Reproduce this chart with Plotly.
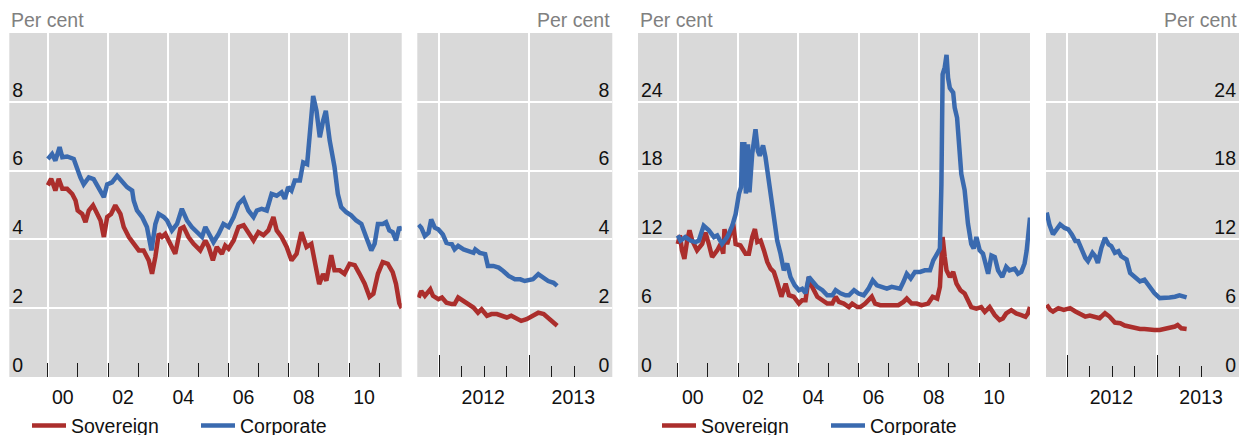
import plotly.graph_objects as go

# ---------------------------------------------------------------- data
# Left chart: yields, per cent (decimal years on the x axis)
sov_long_x = [2000.00, 2000.11, 2000.25, 2000.36, 2000.48, 2000.64, 2000.81, 2000.92, 2000.99,
              2001.14, 2001.25, 2001.36, 2001.50, 2001.64, 2001.75, 2001.86, 2001.97, 2002.10,
              2002.24, 2002.41, 2002.52, 2002.69, 2002.85, 2003.02, 2003.18, 2003.35, 2003.46,
              2003.57, 2003.68, 2003.79, 2003.90, 2004.07, 2004.23, 2004.40, 2004.51, 2004.67,
              2004.84, 2005.06, 2005.23, 2005.34, 2005.48, 2005.61, 2005.78, 2005.89, 2006.00,
              2006.17, 2006.33, 2006.50, 2006.66, 2006.83, 2006.99, 2007.16, 2007.32, 2007.49,
              2007.60, 2007.76, 2007.93, 2008.09, 2008.26, 2008.42, 2008.59, 2008.75, 2008.92,
              2009.01, 2009.14, 2009.25, 2009.41, 2009.52, 2009.69, 2009.85, 2010.02, 2010.19,
              2010.35, 2010.52, 2010.68, 2010.81, 2010.96, 2011.12, 2011.29, 2011.45, 2011.56,
              2011.67, 2011.75]
sov_long = [5.57, 5.76, 5.42, 5.76, 5.47, 5.47, 5.32, 5.13, 4.84,
            4.74, 4.50, 4.84, 4.99, 4.74, 4.55, 4.07, 4.65, 4.74,
            4.99, 4.74, 4.36, 4.07, 3.87, 3.68, 3.68, 3.39, 3.00,
            3.49, 4.16, 4.07, 4.16, 3.87, 3.58, 4.31, 4.36, 4.07,
            3.87, 3.68, 3.97, 3.78, 3.39, 3.78, 3.58, 3.82, 3.73,
            3.97, 4.36, 4.41, 4.21, 3.97, 4.21, 4.12, 4.26, 4.65,
            4.26, 4.07, 3.78, 3.39, 3.58, 4.21, 3.78, 3.87, 3.10,
            2.70, 2.99, 2.80, 3.54, 3.10, 3.10, 3.00, 3.29, 3.25,
            3.00, 2.71, 2.33, 2.42, 3.00, 3.34, 3.29, 3.05, 2.71,
            2.14, 2.00]

corp_long_x = [2000.00, 2000.14, 2000.25, 2000.39, 2000.48, 2000.64, 2000.86, 2000.97, 2001.08,
               2001.19, 2001.36, 2001.52, 2001.69, 2001.86, 2001.97, 2002.13, 2002.30, 2002.46,
               2002.63, 2002.80, 2002.85, 2002.96, 2003.13, 2003.29, 2003.44, 2003.57, 2003.68,
               2003.85, 2003.96, 2004.12, 2004.29, 2004.45, 2004.62, 2004.78, 2004.95, 2005.12,
               2005.23, 2005.39, 2005.50, 2005.67, 2005.83, 2006.00, 2006.17, 2006.33, 2006.50,
               2006.66, 2006.83, 2006.94, 2007.10, 2007.27, 2007.43, 2007.60, 2007.76, 2007.87,
               2007.98, 2008.09, 2008.20, 2008.37, 2008.48, 2008.61, 2008.70, 2008.81, 2008.92,
               2009.03, 2009.14, 2009.23, 2009.36, 2009.52, 2009.63, 2009.74, 2009.91, 2010.07,
               2010.24, 2010.41, 2010.57, 2010.74, 2010.85, 2010.96, 2011.12, 2011.23, 2011.34,
               2011.45, 2011.56, 2011.67, 2011.75]
corp_long = [6.34, 6.48, 6.29, 6.68, 6.39, 6.41, 6.34, 6.05, 5.80,
             5.60, 5.80, 5.75, 5.52, 5.23, 5.60, 5.66, 5.85, 5.70,
             5.52, 5.42, 5.13, 4.84, 4.65, 4.36, 3.68, 4.45, 4.74,
             4.65, 4.55, 4.26, 4.45, 4.89, 4.55, 4.36, 4.21, 4.07,
             4.36, 4.07, 3.92, 4.16, 4.45, 4.36, 4.65, 5.03, 5.18,
             4.84, 4.65, 4.84, 4.89, 4.84, 5.32, 5.27, 5.37, 5.18,
             5.52, 5.42, 5.71, 5.71, 6.24, 6.19, 7.16, 8.17, 7.74,
             6.97, 7.45, 7.74, 6.87, 6.10, 5.32, 4.94, 4.79, 4.70,
             4.55, 4.45, 4.07, 3.68, 3.87, 4.45, 4.45, 4.50, 4.26,
             4.21, 3.97, 4.36, 4.25]

sov_recent_x = [2011.77, 2011.80, 2011.84, 2011.90, 2011.93, 2011.99, 2012.03, 2012.08, 2012.14,
                2012.17, 2012.21, 2012.27, 2012.32, 2012.38, 2012.43, 2012.47, 2012.53, 2012.58,
                2012.64, 2012.69, 2012.75, 2012.80, 2012.86, 2012.91, 2012.97, 2013.03, 2013.10,
                2013.16, 2013.21, 2013.27, 2013.31]
sov_recent = [2.31, 2.50, 2.36, 2.55, 2.36, 2.26, 2.31, 2.16, 2.12,
              2.12, 2.31, 2.21, 2.12, 2.02, 1.87, 1.97, 1.78, 1.83,
              1.83, 1.78, 1.73, 1.78, 1.68, 1.63, 1.68, 1.78, 1.87,
              1.83, 1.73, 1.58, 1.49]

corp_recent_x = [2011.77, 2011.80, 2011.84, 2011.88, 2011.91, 2011.95, 2011.99, 2012.04, 2012.08,
                 2012.14, 2012.17, 2012.21, 2012.27, 2012.32, 2012.38, 2012.40, 2012.45, 2012.51,
                 2012.54, 2012.60, 2012.66, 2012.71, 2012.77, 2012.84, 2012.90, 2012.95, 2013.01,
                 2013.04, 2013.10, 2013.16, 2013.21, 2013.27, 2013.31]
corp_recent = [4.43, 4.34, 4.10, 4.19, 4.58, 4.34, 4.29, 4.14, 3.90,
               3.86, 3.71, 3.81, 3.71, 3.66, 3.61, 3.71, 3.61, 3.57,
               3.23, 3.23, 3.18, 3.08, 2.94, 2.84, 2.84, 2.79, 2.84,
               2.84, 2.99, 2.89, 2.79, 2.74, 2.65]

# Right chart: spreads, per cent
hy_sov_long_x = [2000.00, 2000.07, 2000.14, 2000.22, 2000.31, 2000.39, 2000.48, 2000.64, 2000.81,
                 2000.92, 2001.03, 2001.14, 2001.31, 2001.42, 2001.51, 2001.55, 2001.64, 2001.73,
                 2001.84, 2001.92, 2002.08, 2002.25, 2002.36, 2002.47, 2002.56, 2002.64, 2002.75,
                 2002.86, 2002.97, 2003.08, 2003.19, 2003.28, 2003.36, 2003.44, 2003.58, 2003.69,
                 2003.85, 2004.02, 2004.13, 2004.24, 2004.35, 2004.46, 2004.63, 2004.80, 2004.96,
                 2005.13, 2005.24, 2005.35, 2005.51, 2005.68, 2005.79, 2005.96, 2006.06, 2006.22,
                 2006.44, 2006.55, 2006.72, 2006.94, 2007.10, 2007.32, 2007.49, 2007.60, 2007.76,
                 2007.93, 2008.09, 2008.31, 2008.46, 2008.61, 2008.70, 2008.79, 2008.86, 2008.92,
                 2009.03, 2009.14, 2009.25, 2009.38, 2009.52, 2009.63, 2009.74, 2009.91, 2010.07,
                 2010.19, 2010.35, 2010.52, 2010.68, 2010.79, 2010.90, 2011.07, 2011.23, 2011.40,
                 2011.54, 2011.62, 2011.69]
hy_sov_long = [11.6, 12.35, 11.04, 10.3, 11.9, 12.8, 11.9, 11.04, 11.6,
               12.6, 11.6, 10.46, 11.04, 11.6, 10.75, 12.9, 11.6, 12.5,
               13.36, 11.6, 11.47, 10.75, 10.75, 12.2, 12.9, 11.77, 11.9,
               11.04, 10.03, 9.45, 9.16, 8.43, 7.57, 7.0, 8.14, 7.13,
               7.0, 6.4, 6.7, 6.7, 8.72, 7.86, 7.0, 6.7, 6.4,
               6.4, 7.0, 6.55, 6.4, 6.1, 6.4, 6.1, 6.1, 6.4,
               7.0, 6.4, 6.26, 6.26, 6.26, 6.26, 6.55, 6.84, 6.4,
               6.4, 6.26, 6.4, 7.0, 6.84, 7.86, 12.2, 10.46, 9.3,
               8.72, 9.16, 8.14, 7.57, 7.28, 6.7, 6.1, 5.97, 6.1,
               5.68, 6.1, 5.4, 4.96, 5.1, 5.54, 5.83, 5.54, 5.4,
               5.25, 5.54, 6.1]

hy_corp_long_x = [2000.00, 2000.09, 2000.25, 2000.42, 2000.59, 2000.70, 2000.86, 2001.03, 2001.20,
                  2001.31, 2001.47, 2001.64, 2001.81, 2001.92, 2002.03, 2002.10, 2002.14, 2002.21,
                  2002.26, 2002.33, 2002.38, 2002.47, 2002.58, 2002.66, 2002.72, 2002.83, 2002.91,
                  2002.99, 2003.08, 2003.19, 2003.30, 2003.41, 2003.52, 2003.63, 2003.74, 2003.88,
                  2004.02, 2004.13, 2004.24, 2004.35, 2004.46, 2004.63, 2004.80, 2004.96, 2005.13,
                  2005.24, 2005.40, 2005.57, 2005.68, 2005.85, 2006.00, 2006.17, 2006.33, 2006.47,
                  2006.61, 2006.77, 2006.94, 2007.10, 2007.27, 2007.38, 2007.49, 2007.60, 2007.73,
                  2007.87, 2008.04, 2008.20, 2008.37, 2008.48, 2008.61, 2008.70, 2008.75, 2008.79,
                  2008.86, 2008.92, 2008.97, 2009.03, 2009.14, 2009.19, 2009.27, 2009.36, 2009.41,
                  2009.52, 2009.63, 2009.74, 2009.82, 2009.91, 2010.02, 2010.13, 2010.24, 2010.30,
                  2010.41, 2010.52, 2010.63, 2010.77, 2010.90, 2011.01, 2011.18, 2011.29, 2011.40,
                  2011.51, 2011.58, 2011.69]
hy_corp_long = [12.35, 11.9, 12.2, 11.9, 11.77, 11.9, 13.2, 12.8, 12.2,
                12.35, 11.6, 12.2, 13.2, 14.2, 15.97, 16.55, 20.3, 20.3,
                16.0, 20.3, 16.1, 19.45, 21.6, 19.7, 19.3, 20.2, 19.2,
                17.7, 16.0, 13.4, 11.9, 10.75, 9.3, 9.9, 8.72, 8.0,
                7.57, 7.7, 7.3, 8.72, 8.43, 7.86, 7.57, 7.13, 7.13,
                7.57, 7.3, 7.13, 7.13, 7.57, 7.28, 7.13, 7.7, 8.43,
                8.0, 7.86, 7.7, 7.86, 7.7, 7.7, 8.3, 9.0, 8.6,
                9.16, 9.16, 9.3, 9.3, 10.17, 10.75, 11.2, 16.8, 26.4,
                27.0, 28.1, 26.1, 25.2, 24.8, 23.5, 22.6, 20.0, 17.7,
                16.3, 13.4, 11.6, 11.2, 12.2, 11.04, 10.75, 9.6, 9.0,
                10.6, 10.46, 9.3, 8.72, 9.6, 9.3, 9.45, 9.0, 9.16,
                9.9, 11.04, 13.9]

hy_sov_recent_x = [2011.77, 2011.81, 2011.84, 2011.90, 2011.96, 2012.03, 2012.09, 2012.14, 2012.20,
                   2012.25, 2012.31, 2012.36, 2012.42, 2012.47, 2012.53, 2012.59, 2012.64, 2012.70,
                   2012.75, 2012.81, 2012.86, 2012.92, 2012.97, 2013.03, 2013.09, 2013.14, 2013.20,
                   2013.23, 2013.27, 2013.33]
hy_sov_recent = [6.3, 5.85, 5.71, 6.0, 5.85, 6.0, 5.71, 5.48, 5.27,
                 5.36, 5.19, 5.13, 5.57, 5.27, 4.75, 4.69, 4.49, 4.4,
                 4.25, 4.19, 4.19, 4.1, 4.1, 4.1, 4.25, 4.3, 4.4,
                 4.54, 4.25, 4.19]

hy_corp_recent_x = [2011.77, 2011.80, 2011.84, 2011.88, 2011.92, 2011.97, 2012.01, 2012.05, 2012.09,
                    2012.12, 2012.16, 2012.20, 2012.23, 2012.28, 2012.31, 2012.34, 2012.38, 2012.42,
                    2012.46, 2012.49, 2012.53, 2012.57, 2012.60, 2012.66, 2012.70, 2012.75, 2012.81,
                    2012.86, 2012.92, 2012.97, 2013.03, 2013.09, 2013.14, 2013.20, 2013.25, 2013.29,
                    2013.33]
hy_corp_recent = [14.34, 13.3, 12.44, 12.88, 13.3, 13.0, 12.88, 12.44, 11.85,
                  11.85, 11.12, 10.4, 10.1, 10.83, 10.54, 9.95, 11.27, 12.15,
                  11.56, 11.42, 10.83, 10.98, 10.54, 10.25, 9.08, 8.78, 8.34,
                  8.49, 7.76, 7.32, 6.88, 6.88, 6.94, 7.0, 7.12, 7.03,
                  6.94]

# Axis ticks and labels
long_label_years = [2000, 2002, 2004, 2006, 2008, 2010]
long_labels = ["00", "02", "04", "06", "08", "10"]
long_odd_years = [2001, 2003, 2005, 2007, 2009, 2011]
recent_years = [2012, 2013]
recent_labels = ["2012", "2013"]
recent_quarters = [2012.25, 2012.5, 2012.75, 2013.25, 2013.5]
left_yticks = [0, 2, 4, 6, 8]
right_yticks = [0, 6, 12, 18, 24]

# ---------------------------------------------------------------- style
RED = "#AB2E2C"
BLUE = "#3A6AAF"
BG = "#D9D9D9"
TICK = "#1A1A1A"
FONT = "Liberation Sans, Arial, sans-serif"
FS = 19.5
LW = 4.5

fig = go.Figure()

series = [
    ("x", "y", sov_long_x, sov_long, corp_long_x, corp_long, "legend", True),
    ("x2", "y2", sov_recent_x, sov_recent, corp_recent_x, corp_recent, "legend", False),
    ("x3", "y3", hy_sov_long_x, hy_sov_long, hy_corp_long_x, hy_corp_long, "legend2", True),
    ("x4", "y4", hy_sov_recent_x, hy_sov_recent, hy_corp_recent_x, hy_corp_recent, "legend2", False),
]
for xa, ya, sx, sy, cx, cy, leg, show in series:
    fig.add_trace(go.Scatter(x=sx, y=sy, xaxis=xa, yaxis=ya, mode="lines", name="Sovereign",
                             line=dict(color=RED, width=LW), legend=leg, showlegend=show))
    fig.add_trace(go.Scatter(x=cx, y=cy, xaxis=xa, yaxis=ya, mode="lines", name="Corporate",
                             line=dict(color=BLUE, width=LW), legend=leg, showlegend=show))

common_x = dict(showline=False, zeroline=False, showgrid=True, gridcolor="white", gridwidth=1.5,
                ticks="inside", tickcolor=TICK, tickwidth=1.3, ticklabelstandoff=6,
                tickfont=dict(family=FONT, size=FS, color="#111111"))
common_y = dict(showline=False, zeroline=False, showgrid=True, gridcolor="white", gridwidth=1.5,
                ticks="", ticklabelposition="inside", ticklabelshift=-12,
                tickfont=dict(family=FONT, size=FS, color="#111111"))


def long_x(domain, rng, anchor):
    return dict(common_x, domain=domain, range=rng, anchor=anchor,
                tickmode="array", tickvals=long_label_years, ticktext=long_labels,
                ticklen=14, ticklabelshift=15,
                minor=dict(tickmode="array", tickvals=long_odd_years, ticks="inside", ticklen=14,
                           tickcolor=TICK, tickwidth=1.3, showgrid=False))


def recent_x(domain, rng, anchor):
    return dict(common_x, domain=domain, range=rng, anchor=anchor,
                tickmode="array", tickvals=recent_years, ticktext=recent_labels,
                ticklen=22, ticklabelshift=44,
                minor=dict(tickmode="array", tickvals=recent_quarters, ticks="inside", ticklen=11,
                           tickcolor=TICK, tickwidth=1.3, showgrid=False))


legend_style = dict(orientation="h", xanchor="left", y=-0.085, yanchor="top",
                    bgcolor="rgba(0,0,0,0)", font=dict(family=FONT, size=FS, color="#111111"),
                    itemwidth=34, entrywidth=120, entrywidthmode="pixels")

W, H = 1239, 435
fig.update_layout(
    width=W, height=H, template="none",
    paper_bgcolor="white", plot_bgcolor=BG,
    margin=dict(l=0, r=0, t=33, b=58, autoexpand=False),
    font=dict(family=FONT, size=FS, color="#111111"),
    xaxis=long_x([9.3 / W, 401.7 / W], [1998.72, 2011.75], "y"),
    xaxis2=recent_x([417.3 / W, 612.3 / W], [2011.756, 2013.922], "y2"),
    xaxis3=long_x([638 / W, 1030 / W], [1998.68, 2011.69], "y3"),
    xaxis4=recent_x([1046 / W, 1.0], [2011.762, 2013.914], "y4"),
    yaxis=dict(common_y, anchor="x", range=[0, 10], tickvals=left_yticks, side="left"),
    yaxis2=dict(common_y, anchor="x2", range=[0, 10], tickvals=left_yticks, side="right"),
    yaxis3=dict(common_y, anchor="x3", range=[0, 30], tickvals=right_yticks, side="left"),
    yaxis4=dict(common_y, anchor="x4", range=[0, 30], tickvals=right_yticks, side="right"),
    legend=dict(legend_style, x=27 / W),
    legend2=dict(legend_style, x=657 / W),
)

unit_font = dict(family=FONT, size=FS, color="#808080")
for xref, xpos, anchor in [("x domain", 0, "left"), ("x2 domain", 1, "right"),
                           ("x3 domain", 0, "left"), ("x4 domain", 1, "right")]:
    fig.add_annotation(text="Per cent", xref=xref, x=xpos, xanchor=anchor,
                       yref="paper", y=1, yanchor="bottom", showarrow=False, font=unit_font)

fig.write_html("out.html")
